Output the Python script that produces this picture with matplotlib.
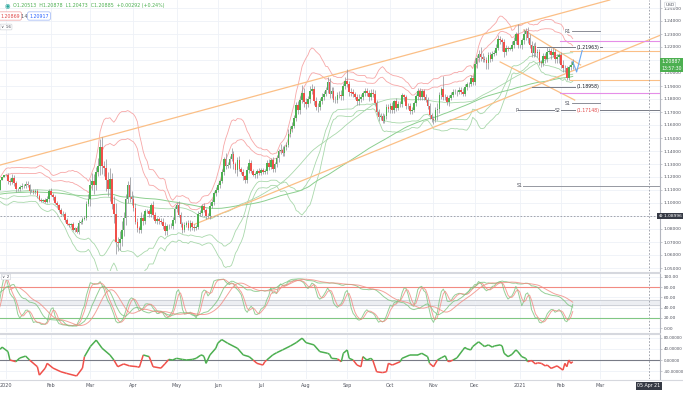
import matplotlib
matplotlib.use('Agg')
import matplotlib.pyplot as plt
import numpy as np
import pandas as pd
from matplotlib.collections import LineCollection
from matplotlib.lines import Line2D

# EUR/USD daily closes (weekdays). Q4 2019 only feeds the indicators.
close_2019 = [1.0900, 1.0960, 1.0970, 1.0978, 1.0971, 1.0957, 1.0971, 1.1006, 1.1041, 1.1029, 1.1032, 1.1068,
              1.1124, 1.1154, 1.1150, 1.1127, 1.1128, 1.1106, 1.1080, 1.1099, 1.1111, 1.1152, 1.1152,
              1.1166, 1.1128, 1.1075, 1.1066, 1.1050, 1.1018, 1.1032, 1.1008, 1.1006, 1.1021, 1.1053,
              1.1073, 1.1076, 1.1075, 1.1056, 1.1022, 1.1012, 1.1016, 1.1009, 1.1009, 1.1017,
              1.1078, 1.1082, 1.1078, 1.1104, 1.1059, 1.1065, 1.1093, 1.1130, 1.1131, 1.1120, 1.1145,
              1.1151, 1.1113, 1.1122, 1.1078, 1.1090, 1.1089, 1.1089, 1.1101, 1.1177, 1.1200, 1.1213]
close_2020 = [
    1.1215, 1.1171, 1.1158, 1.1195, 1.1152, 1.1104, 1.1105, 1.1121, 1.1134, 1.1127, 1.1150, 1.1136,
    1.1091, 1.1095, 1.1083, 1.1093, 1.1056, 1.1025, 1.1019, 1.1021, 1.1009, 1.1031, 1.1093,
    1.1060, 1.1044, 1.1003, 1.0981, 1.0944, 1.0914, 1.0915, 1.0873, 1.0840, 1.0830, 1.0837, 1.0791,
    1.0805, 1.0780, 1.0847, 1.0854, 1.0880, 1.0883, 1.0996, 1.1027,
    1.1137, 1.1173, 1.1136, 1.1238, 1.1287, 1.1428, 1.1285, 1.1268, 1.1176, 1.1105, 1.1183, 1.0995,
    1.0918, 1.0697, 1.0694, 1.0723, 1.0790, 1.0882, 1.1030, 1.1140, 1.1046, 1.1031,
    1.0961, 1.0856, 1.0806, 1.0791, 1.0888, 1.0859, 1.0936, 1.0936, 1.0913, 1.0983, 1.0905, 1.0863,
    1.0875, 1.0862, 1.0857, 1.0822, 1.0781, 1.0821, 1.0825, 1.0822, 1.0873, 1.0954,
    1.0982, 1.0908, 1.0838, 1.0794, 1.0834, 1.0843, 1.0807, 1.0846, 1.0818, 1.0804, 1.0818, 1.0915,
    1.0923, 1.0977, 1.0950, 1.0900, 1.0898, 1.0980, 1.1007, 1.1078, 1.1101,
    1.1135, 1.1172, 1.1235, 1.1337, 1.1287, 1.1294, 1.1341, 1.1374, 1.1299, 1.1257, 1.1333, 1.1263,
    1.1242, 1.1204, 1.1177, 1.1256, 1.1307, 1.1250, 1.1219, 1.1220, 1.1243, 1.1234,
    1.1251, 1.1238, 1.1244, 1.1310, 1.1275, 1.1330, 1.1260, 1.1300, 1.1343, 1.1398, 1.1411, 1.1383,
    1.1428, 1.1447, 1.1532, 1.1568, 1.1595, 1.1656, 1.1753, 1.1717, 1.1792, 1.1846, 1.1776,
    1.1762, 1.1799, 1.1860, 1.1875, 1.1787, 1.1735, 1.1738, 1.1783, 1.1813, 1.1842, 1.1870, 1.1931,
    1.1836, 1.1861, 1.1795, 1.1793, 1.1834, 1.1830, 1.1820, 1.1903, 1.1936,
    1.1914, 1.1854, 1.1850, 1.1837, 1.1817, 1.1782, 1.1803, 1.1813, 1.1845, 1.1863, 1.1847, 1.1815,
    1.1849, 1.1837, 1.1771, 1.1703, 1.1658, 1.1673, 1.1632, 1.1666, 1.1738, 1.1721,
    1.1749, 1.1715, 1.1781, 1.1734, 1.1763, 1.1760, 1.1827, 1.1813, 1.1745, 1.1746, 1.1706, 1.1717,
    1.1768, 1.1820, 1.1863, 1.1815, 1.1860, 1.1812, 1.1795, 1.1747, 1.1675, 1.1646,
    1.1641, 1.1718, 1.1722, 1.1827, 1.1874, 1.1815, 1.1812, 1.1778, 1.1809, 1.1832, 1.1855, 1.1857,
    1.1851, 1.1871, 1.1857, 1.1842, 1.1893, 1.1914, 1.1918, 1.1962, 1.1927,
    1.2072, 1.2112, 1.2147, 1.2121, 1.2107, 1.2101, 1.2079, 1.2135, 1.2111, 1.2147, 1.2155, 1.2196,
    1.2264, 1.2253, 1.2240, 1.2161, 1.2189, 1.2188, 1.2188, 1.2213, 1.2246, 1.2298, 1.2216]
close_2021 = [
    1.2216, 1.2250, 1.2297, 1.2326, 1.2271, 1.2219, 1.2151, 1.2207, 1.2154, 1.2158, 1.2083, 1.2077,
    1.2131, 1.2107, 1.2163, 1.2169, 1.2140, 1.2160, 1.2110, 1.2120, 1.2136,
    1.2062, 1.2036, 1.2037, 1.1963, 1.2045, 1.2059, 1.2088]

# wicks beyond the candle body, in pips (Jan 2020 onwards)
wick_up = [
    10, 18, 22, 25, 20, 15, 12, 20, 18, 14, 16, 20, 12, 10, 14, 18, 12, 15, 10, 12, 14, 25, 15,
    20, 15, 18, 12, 10, 15, 20, 12, 14, 10, 12, 15, 10, 18, 20, 15, 12, 18, 22, 45,
    45, 60, 50, 40, 60, 67, 80, 40, 70, 60, 90, 50, 60, 80, 45, 60, 70, 50, 40, 30, 60, 45,
    30, 40, 25, 20, 40, 25, 20, 15, 20, 20, 30, 25, 20, 15, 20, 25, 30, 20, 15, 25, 20, 20,
    25, 30, 20, 15, 20, 15, 25, 20, 15, 20, 15, 20, 25, 15, 20, 15, 20, 25, 20, 15, 20,
    20, 15, 25, 20, 45, 20, 20, 50, 25, 20, 20, 25, 15, 20, 15, 30, 35, 20, 15, 20, 20, 25,
    20, 15, 15, 20, 25, 20, 25, 15, 30, 20, 40, 25, 20, 20, 35, 25, 30, 20, 25, 30, 30, 60, 35,
    30, 25, 40, 40, 25, 30, 30, 25, 30, 20, 25, 35, 30, 30, 35, 25, 20, 30, 40, 20, 30,
    95, 25, 30, 30, 20, 25, 35, 25, 20, 25, 25, 20, 30, 25, 30, 25, 20, 20, 20, 20, 20, 25,
    20, 25, 15, 30, 20, 20, 20, 15, 20, 25, 20, 20, 20, 20, 20, 20, 20, 15, 25, 20, 20, 20,
    25, 20, 50, 30, 20, 105, 25, 20, 20, 20, 20, 20, 15, 20, 20, 25, 20, 15, 15, 20, 25,
    40, 25, 30, 50, 35, 20, 25, 30, 30, 25, 20, 30, 30, 20, 20, 20, 30, 15, 10, 35, 30, 15, 80,
    10, 20, 40, 20, 25, 30, 25, 25, 30, 25, 30, 20, 20, 20, 40, 20, 20, 30, 25, 30, 20,
    25, 35, 25, 20, 20, 35, 20]
wick_dn = [
    8, 25, 20, 15, 22, 18, 14, 10, 12, 15, 10, 12, 18, 10, 12, 14, 16, 12, 10, 14, 12, 10, 20,
    10, 18, 12, 15, 14, 10, 12, 18, 10, 12, 14, 10, 15, 12, 20, 12, 18, 10, 15, 20,
    50, 40, 70, 35, 30, 70, 60, 60, 80, 50, 90, 40, 70, 90, 60, 58, 50, 40, 50, 30, 40, 50,
    25, 20, 30, 20, 20, 30, 20, 15, 20, 20, 25, 20, 25, 20, 15, 20, 30, 25, 20, 15, 20, 25,
    20, 15, 20, 25, 15, 20, 15, 20, 25, 20, 15, 20, 15, 25, 20, 20, 15, 20, 15, 20, 25,
    15, 20, 15, 20, 25, 20, 25, 20, 35, 25, 50, 20, 20, 25, 20, 20, 25, 20, 15, 25, 30, 20,
    20, 15, 15, 20, 20, 15, 25, 20, 20, 25, 20, 25, 20, 20, 20, 25, 25, 20, 25, 30, 30, 25, 40,
    40, 25, 30, 20, 30, 20, 35, 20, 25, 20, 20, 25, 25, 30, 20, 20, 20, 25, 30, 25, 25,
    25, 30, 30, 25, 20, 30, 25, 25, 20, 20, 25, 30, 20, 20, 20, 25, 30, 20, 20, 20, 20, 20,
    25, 20, 20, 25, 20, 20, 20, 25, 20, 20, 20, 25, 15, 20, 25, 20, 25, 20, 20, 25, 25, 25,
    35, 20, 80, 30, 25, 25, 20, 25, 30, 20, 20, 20, 25, 15, 15, 20, 20, 20, 20, 20, 20,
    20, 30, 25, 30, 25, 20, 50, 50, 25, 20, 20, 20, 20, 30, 70, 40, 25, 20, 10, 20, 20, 20, 20,
    20, 30, 30, 40, 40, 30, 30, 25, 20, 30, 20, 30, 20, 30, 20, 20, 30, 20, 35, 30, 40,
    25, 30, 30, 15, 20, 25, 30]

# lower oscillator (bar number from 1 Jan 2020, value)
osc_bar = [-3, -2, 1, 2, 5, 7, 10, 12, 16, 17, 20, 21, 24, 28, 31, 36, 39, 40, 43, 46, 49, 53, 55, 57,
           60, 63, 67, 68, 70, 73, 75, 79, 81, 83, 85, 87, 90, 92, 95, 97, 99, 100, 101, 102, 104,
           107, 108, 110, 113, 118, 121, 124, 126, 128, 131, 132, 133, 136, 138, 141, 145, 148, 151,
           153, 157, 160, 164, 165, 166, 169, 171, 172, 174, 175, 177, 179, 181, 182, 184, 186, 187,
           189, 192, 194, 195, 197, 201, 202, 206, 210, 212, 215, 216, 218, 220, 222, 224, 225, 226,
           228, 230, 233, 234, 235, 237, 238, 241, 243, 244, 246, 248, 249, 252, 253, 254, 256, 258,
           260, 261, 263, 265, 266, 268, 270, 271, 273, 275, 276, 278, 280, 281, 284, 285, 286, 287,
           288, 289]
osc_val = [38, 46, 30, 0, -6, 7, 14, 0, -24, -54, -29, -12, -29, -42, -48, -57, -29, 12, 48, 71, 42, 18,
           0, -24, -14, -21, -24, -26, 18, 12, -24, -29, -14, 2, 0, 6, 2, 0, 2, 6, 16, 18, 12, -12, 18,
           42, 60, 73, 60, 42, 18, 12, 0, -12, -18, -6, 0, 18, 26, 36, 50, 62, 78, 62, 54, 30, 24, 20,
           6, 4, -6, 24, 36, 6, 0, -18, -24, 12, 0, 6, 0, -42, -45, -42, -12, -18, -6, 6, 18, 18, 24,
           12, -12, -24, 0, 8, 15, -2, -6, 0, 8, 36, 45, 40, 36, 48, 65, 54, 48, 54, 46, 50, 54, 50, 24,
           12, 20, 36, 30, 12, 6, -6, -2, -14, -10, -12, -21, -18, -30, -24, -21, -36, -12, -24, 0,
           -12, -6]

# drawn objects: (bar, price) anchors
chan_up = [(-3, 1.1292), (308, 1.2562)]
chan_lo = [(96, 1.0835), (345, 1.2360)]
down_1 = [(264, 1.2331), (293, 1.2062)]
down_2 = [(252, 1.2085), (290, 1.1792)]
path_bar = [289, 291, 294]
path_px = [1.2088, 1.2008, 1.2185]

GREEN = '#4caf50'
RED = '#f0504a'
W, H = 683, 393

dates = pd.bdate_range('2019-10-01', '2021-02-09')
closes = np.array(close_2019 + close_2020 + close_2021)
assert len(closes) == len(dates)
nh = len(close_2019)
xs = np.arange(len(closes)) - nh
up = np.r_[np.zeros(nh), wick_up] / 1e4
dn = np.r_[np.zeros(nh), wick_dn] / 1e4
opens = np.r_[closes[0], closes[:-1]]
highs = np.maximum(opens, closes) + up
lows = np.minimum(opens, closes) - dn

s = pd.Series(closes)
hi = pd.Series(highs)
lo = pd.Series(lows)

fig = plt.figure(figsize=(W / 100, H / 100), dpi=100)
fig.patch.set_facecolor('white')


def box(top, bot):
    return [0, 1 - bot / H, 660 / W, (bot - top) / H]


def fx(px):
    return px / W


def fy(py):
    return 1 - py / H


xlim = (-6 / 1.961, 654 / 1.961)
ax = fig.add_axes(box(0, 271))
ax2 = fig.add_axes(box(274, 332))
ax3 = fig.add_axes(box(335, 379))

# month ticks (Apr 2021 is covered by the crosshair date)
cal = pd.bdate_range('2019-10-01', '2021-03-31')
mstart = [i - nh for i in range(1, len(cal)) if cal[i].month != cal[i - 1].month and i - nh >= 0]
mlab = [cal[i + nh].strftime('%Y') if cal[i + nh].month == 1 else cal[i + nh].strftime('%b') for i in mstart]

for a in (ax, ax2, ax3):
    a.set_xlim(*xlim)
    a.set_facecolor('white')
    for sp in ('top', 'left', 'bottom'):
        a.spines[sp].set_visible(False)
    a.spines['right'].set_color('#b2b5be')
    a.spines['right'].set_linewidth(0.8)
    a.yaxis.tick_right()
    a.tick_params(axis='y', labelsize=3.2, length=1.5, width=0.5, pad=1.0, colors='#b2b5be', labelcolor='#50535e')
    a.set_xticks(mstart)
    a.grid(True, color='#eef1f7', lw=0.6)
    a.set_axisbelow(True)
for a in (ax, ax2):
    a.tick_params(axis='x', length=0, labelbottom=False)
ax3.tick_params(axis='x', length=0, labelsize=3.5, labelcolor='#50535e', pad=3)
ax3.set_xticklabels(mlab)

# ---- main pane
ax.set_ylim(1.24 - 250 / 1300, 1.24 + 21 / 1300)
pticks = np.round(np.arange(1.05, 1.2501, 0.01), 2)
ax.set_yticks(pticks)
ax.set_yticklabels(['' if v in (1.09, 1.21) else '%.5f' % v for v in pticks])

m20 = s.rolling(20).mean()
sd20 = s.rolling(20).std()
m50 = s.rolling(50).mean()
ma100 = s.rolling(100, min_periods=60).mean()
for k in (2, 3):
    ax.plot(xs, m20 + k * sd20, color='#f7a7a7', lw=0.6)
    ax.plot(xs, m20 - k * sd20, color='#a9d8ab', lw=0.6)
ax.plot(xs, m50, color='#a9d8ab', lw=0.6)
ax.plot(xs, ma100, color='#8ccf8f', lw=0.7)

bull = closes >= opens
body_lo = np.minimum(opens, closes)
body_h = np.maximum(np.abs(closes - opens), 0.00008)
ax.vlines(xs, lows, highs, color='#8d8f96', lw=0.5, zorder=3)
ax.bar(xs[bull], body_h[bull], bottom=body_lo[bull], width=0.85, color=GREEN, lw=0, zorder=4)
ax.bar(xs[~bull], body_h[~bull], bottom=body_lo[~bull], width=0.85, color=RED, lw=0, zorder=4)

ORANGE = '#fbbf86'
ax.axline(chan_up[0], chan_up[1], color=ORANGE, lw=0.9)
ax.plot(*zip(*chan_lo), color=ORANGE, lw=0.9)
ax.plot(*zip(*down_1), color=ORANGE, lw=0.9)
ax.plot(*zip(*down_2), color=ORANGE, lw=0.9)
ax.plot(path_bar, path_px, color='#6aa9f2', lw=0.8, zorder=5)

# level lines on the right
for p in (1.2248, 1.1846):
    ax.plot([282.5, 340], [p, p], color='#e58ee8', lw=0.8)
for p in (1.2172, 1.1946):
    ax.plot([287.6, 340], [p, p], color=ORANGE, lw=0.8)
ax.plot([259.6, 340], [1.17148, 1.17148], color='#787b86', lw=0.7)
ax.plot([260.6, 340], [1.1131, 1.1131], color='#9598a1', lw=0.7)
ax.plot([270.8, 304], [1.21963, 1.21963], color='#787b86', lw=0.7)
ax.plot([268.2, 291.2], [1.18958, 1.18958], color='#787b86', lw=0.7)
ax.plot([288.6, 303], [1.2323, 1.2323], color='#787b86', lw=0.6)
ax.plot([288.6, 303], [1.1769, 1.1769], color='#787b86', lw=0.6)
for t, b, p, c in (('R1', 285, 1.2323, '#50535e'), ('(1.21963)', 291, 1.21963, '#131722'),
                   ('(1.18958)', 291, 1.18958, '#131722'), ('S1', 285, 1.1769, '#50535e'),
                   ('P', 259.6, 1.17148, '#50535e'), ('S2', 280, 1.17148, '#50535e'),
                   ('(1.17148)', 291, 1.17148, '#e04848'), ('S1', 260.6, 1.1131, '#50535e')):
    ax.text(b, p, t, fontsize=3.3, color=c, ha='left', va='center', zorder=6,
            bbox=dict(boxstyle='square,pad=0.1', fc='white', ec='none'))

# crosshair
cx = (649 - 6) / 1.961
for a in (ax, ax2, ax3):
    a.axvline(cx, color='#9598a1', lw=0.6, ls=(0, (2, 2)))
ax.axhline(1.0900, color='#9598a1', lw=0.6, ls=(0, (2, 2)))

# ---- stochastic pane
ax2.set_ylim(-4 / 0.51, 54 / 0.51)
ax2.set_yticks([0, 20, 40, 60, 80, 100])
ax2.set_yticklabels(['%.2f' % v for v in (0, 20, 40, 60, 80, 100)])
ax2.axhspan(45, 55, color='#eceef2', zorder=0)
ax2.axhline(45, color='#c9ccd3', lw=0.6)
ax2.axhline(55, color='#c9ccd3', lw=0.6)
ax2.axhline(80, color='#f28b82', lw=0.8)
ax2.axhline(20, color='#81c784', lw=0.8)


def stoch(n):
    ll = lo.rolling(n).min()
    hh = hi.rolling(n).max()
    return 100 * (s - ll) / (hh - ll)


fk = stoch(14).rolling(3).mean()
fd = fk.rolling(3).mean()
sk = stoch(55).rolling(8).mean()
sd = sk.rolling(8).mean()
ax2.plot(xs, fk, color='#7cc47f', lw=0.7, alpha=0.8)
ax2.plot(xs, fd, color='#f28b82', lw=0.7, alpha=0.8)
ax2.plot(xs, sk, color='#7cc47f', lw=0.7, alpha=0.8)
ax2.plot(xs, sd, color='#f28b82', lw=0.7, alpha=0.8)

# ---- bottom oscillator
ax3.set_ylim(-19 / 0.28, 25 / 0.28)
ax3.set_yticks([-40, 0, 40, 80])
ax3.set_yticklabels(['%.5f' % v for v in (-40, 0, 40, 80)])
ax3.tick_params(axis='y', labelsize=2.9)
ax3.axhline(0, color='#787b86', lw=0.8)
ob = np.array(osc_bar, dtype=float)
ov = np.array(osc_val, dtype=float)
segs = [[(ob[i], ov[i]), (ob[i + 1], ov[i + 1])] for i in range(len(ob) - 1)]
cols = [GREEN if ov[i] + ov[i + 1] >= 0 else RED for i in range(len(ob) - 1)]
ax3.add_collection(LineCollection(segs, colors=cols, linewidths=1.1))

# ---- pane separators and frame
for py in (272.5, 333.5):
    fig.add_artist(Line2D([0, fx(660)], [fy(py), fy(py)], color='#d6d8de', lw=1.5))
fig.add_artist(Line2D([0, 1], [fy(380), fy(380)], color='#d6d8de', lw=0.8))

# ---- overlays
fig.text(fx(7), fy(6), '\u25c9', fontsize=4.5, color='#26a69a', ha='center', va='center')
fig.text(fx(13), fy(6), 'O1.20513  H1.20878  L1.20473  C1.20885  +0.00292 (+0.24%)',
         fontsize=3.4, color=GREEN, ha='left', va='center')
fig.text(fx(10), fy(16), '1.20869', fontsize=3.4, color='#e04848', ha='center', va='center',
         bbox=dict(boxstyle='round,pad=0.35', fc='white', ec='#f0a0a0', lw=0.5))
fig.text(fx(24), fy(16), '1.4', fontsize=3.4, color='#50535e', ha='center', va='center')
fig.text(fx(39), fy(16), '1.20917', fontsize=3.4, color='#2962ff', ha='center', va='center',
         bbox=dict(boxstyle='round,pad=0.35', fc='white', ec='#9db5f5', lw=0.5))
fig.text(fx(6), fy(27), '\u2228 16', fontsize=3.2, color='#50535e', ha='center', va='center',
         bbox=dict(boxstyle='round,pad=0.2', fc='white', ec='#c9ccd3', lw=0.4))
fig.text(fx(6), fy(277), '\u2228 2', fontsize=3.2, color='#50535e', ha='center', va='center',
         bbox=dict(boxstyle='round,pad=0.2', fc='white', ec='#c9ccd3', lw=0.4))
fig.text(fx(670), fy(5), 'USD', fontsize=3.2, color='#50535e', ha='center', va='center',
         bbox=dict(boxstyle='round,pad=0.2', fc='white', ec='#c9ccd3', lw=0.4))
fig.text(fx(671.5), fy(61.5), '1.20887', fontsize=3.3, color='white', ha='center', va='center',
         bbox=dict(boxstyle='square,pad=0.3', fc=GREEN, ec='none'))
fig.text(fx(671.5), fy(68.5), '13:57:30', fontsize=3.3, color='white', ha='center', va='center',
         bbox=dict(boxstyle='square,pad=0.3', fc=GREEN, ec='none'))
fig.text(fx(670), fy(216), '\u2295 1.08996', fontsize=3.2, color='white', ha='center', va='center',
         bbox=dict(boxstyle='square,pad=0.3', fc='#363a45', ec='none'))
fig.text(fx(649), fy(386), '05 Apr 21', fontsize=3.4, color='white', ha='center', va='center',
         bbox=dict(boxstyle='square,pad=0.3', fc='#363a45', ec='none'))

fig.savefig('out.png', dpi=100, facecolor='white')
